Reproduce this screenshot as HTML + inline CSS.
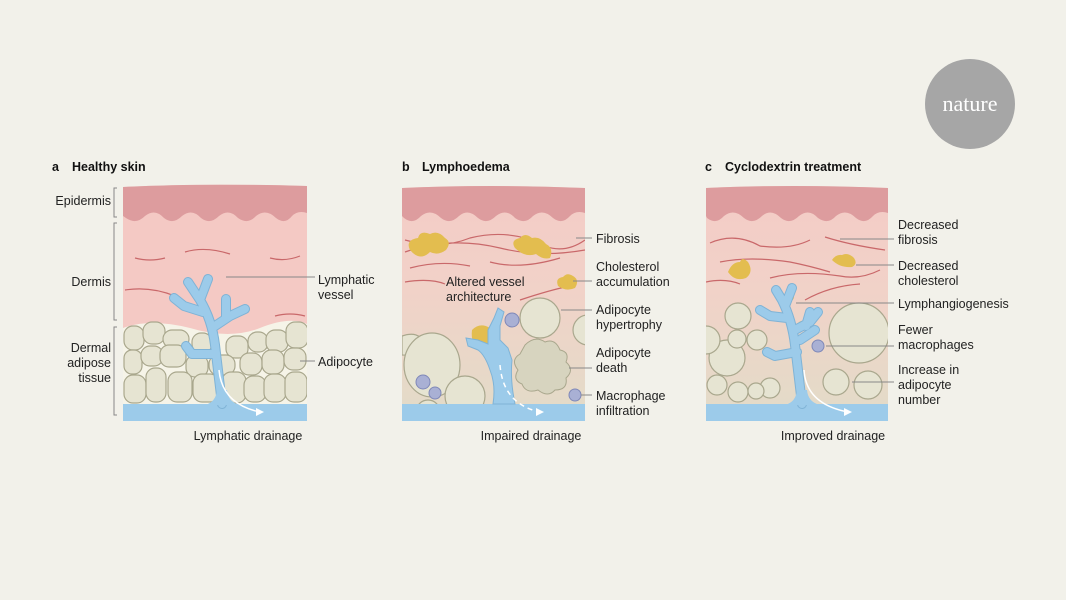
<!DOCTYPE html>
<html><head><meta charset="utf-8"><style>
html,body{margin:0;padding:0;background:#f2f1ea;}
svg{display:block;font-family:"Liberation Sans",Arial,sans-serif;}
.l{font-size:12.5px;fill:#222;}
.t{font-size:12.5px;font-weight:bold;fill:#111;}
.ln{stroke:#888;stroke-width:1;fill:none;}
.cell{fill:#e6e4d2;stroke:#a9a78d;stroke-width:1.2;}
.fib{stroke:#c9686a;stroke-width:1.2;fill:none;}
.v{fill:#9ccbea;stroke:#7fb3d6;stroke-width:1;}
.vo{stroke:#7fb3d6;stroke-width:10;fill:none;stroke-linecap:round;stroke-linejoin:round;}
.vi{stroke:#9ccbea;stroke-width:8;fill:none;stroke-linecap:round;stroke-linejoin:round;}
.ch{fill:#e3bd4f;}
.mac{fill:#a9b0d4;stroke:#7f88b8;stroke-width:1;}
</style></head><body>
<svg width="1066" height="600" viewBox="0 0 1066 600">
<rect width="1066" height="600" fill="#f2f1ea"/>
<defs>
<linearGradient id="gb" x1="0" y1="0" x2="0" y2="1">
<stop offset="0" stop-color="#f4cbc6"/><stop offset="0.45" stop-color="#f1d2c8"/><stop offset="1" stop-color="#e2dcc8"/></linearGradient>
<clipPath id="ca"><rect x="123" y="180" width="184" height="241"/></clipPath>
<clipPath id="cb"><rect x="402" y="180" width="183" height="241"/></clipPath>
<clipPath id="cc"><rect x="706" y="180" width="182" height="241"/></clipPath>
<path id="va" d="M222 404 Q218 370 215 345 Q212 320 200 300 L188 282 M200 300 L208 279 M203 312 L184 306 L174 298 M212 328 L230 316 L245 309 M226 318 L226 299 M215 354 L192 354 L186 346"/>
<path id="vc" d="M802 404 Q798 370 795 345 Q792 320 782 300 L776 290 M785 306 L792 288 M787 318 L770 316 L760 310 M795 330 L810 322 L818 312 M806 326 L810 312 M797 352 L775 356 L767 352 M800 340 L815 330"/>
</defs>
<!-- nature -->
<circle cx="970" cy="104" r="45" fill="#a6a6a6"/>
<text x="970" y="111" text-anchor="middle" font-family="Liberation Serif,serif" font-size="22" fill="#fff">nature</text>

<!-- ===== Panel a ===== -->
<text x="52" y="171" class="t">a</text><text x="72" y="171" class="t">Healthy skin</text>
<g clip-path="url(#ca)">
<path d="M123 187 Q200 183 307 186 L307 421 L123 421Z" fill="#f4c9c4"/>
<path d="M123 187 Q200 183 307 186 L307 213 Q298 210 292 216 Q285 225 276 218 Q266 208 256 216 Q248 225 238 218 Q229 208 219 216 Q210 225 201 218 Q192 208 182 216 Q173 225 164 218 Q155 208 145 216 Q136 225 126 218 L123 216Z" fill="#dd9c9e"/>
<path class="fib" d="M135 258 Q150 262 165 258 M185 252 Q205 246 230 254 M270 258 Q285 262 300 256 M125 290 Q150 286 175 296 M275 316 Q290 312 305 316"/>
<path d="M123 328 Q150 318 190 328 Q230 340 260 328 Q290 316 307 324 L307 404 L123 404Z" fill="#f6f4e8"/>
<g>
<rect class="cell" x="124" y="326" width="20" height="24" rx="9"/><rect class="cell" x="143" y="322" width="22" height="22" rx="9"/><rect class="cell" x="163" y="330" width="26" height="18" rx="9"/><rect class="cell" x="192" y="333" width="20" height="20" rx="9"/><rect class="cell" x="226" y="336" width="22" height="22" rx="9"/><rect class="cell" x="248" y="332" width="20" height="20" rx="9"/><rect class="cell" x="266" y="330" width="22" height="22" rx="9"/><rect class="cell" x="286" y="322" width="22" height="26" rx="9"/>
<rect class="cell" x="124" y="350" width="18" height="24" rx="8"/><rect class="cell" x="141" y="346" width="22" height="20" rx="9"/><rect class="cell" x="160" y="345" width="26" height="22" rx="9"/><rect class="cell" x="186" y="355" width="22" height="22" rx="9"/><rect class="cell" x="209" y="355" width="26" height="20" rx="9"/><rect class="cell" x="240" y="353" width="22" height="22" rx="9"/><rect class="cell" x="262" y="350" width="22" height="24" rx="9"/><rect class="cell" x="284" y="348" width="22" height="22" rx="9"/>
<rect class="cell" x="124" y="375" width="22" height="28" rx="9"/><rect class="cell" x="146" y="368" width="20" height="34" rx="9"/><rect class="cell" x="168" y="372" width="24" height="30" rx="9"/><rect class="cell" x="193" y="374" width="26" height="28" rx="9"/><rect class="cell" x="222" y="372" width="24" height="31" rx="9"/><rect class="cell" x="244" y="376" width="22" height="26" rx="9"/><rect class="cell" x="264" y="374" width="22" height="28" rx="9"/><rect class="cell" x="285" y="372" width="22" height="30" rx="9"/>
</g>
<rect x="123" y="404" width="184" height="17" fill="#9ccbea"/>
<use href="#va" class="vo"/><use href="#va" class="vi"/>
<path d="M217 390 Q216 402 205 405 L240 405 Q228 402 227 390Z" fill="#9ccbea"/>
<path d="M219 370 Q222 404 260 412" stroke="#fff" stroke-width="1.5" fill="none"/><path d="M256 408 L264 412 L256 416Z" fill="#fff"/>
</g>
<g class="ln"><path d="M117 188 L114 188 L114 217 L117 217 M117 223 L114 223 L114 320 L117 320 M117 327 L114 327 L114 415 L117 415"/>
<path d="M226 277 L315 277 M300 361 L315 361"/></g>
<text x="111" y="205" class="l" text-anchor="end">Epidermis</text>
<text x="111" y="286" class="l" text-anchor="end">Dermis</text>
<text x="111" y="352" class="l" text-anchor="end">Dermal</text>
<text x="111" y="367" class="l" text-anchor="end">adipose</text>
<text x="111" y="382" class="l" text-anchor="end">tissue</text>
<text x="318" y="284" class="l">Lymphatic</text><text x="318" y="299" class="l">vessel</text>
<text x="318" y="366" class="l">Adipocyte</text>
<text x="248" y="440" class="l" text-anchor="middle">Lymphatic drainage</text>

<!-- ===== Panel b ===== -->
<text x="402" y="171" class="t">b</text><text x="422" y="171" class="t">Lymphoedema</text>
<g clip-path="url(#cb)">
<path d="M402 188 Q490 184 585 188 L585 421 L402 421Z" fill="url(#gb)"/>
<path d="M402 188 Q490 184 585 188 L585 213 Q576 210 570 216 Q562 225 553 218 Q543 208 533 216 Q525 225 515 218 Q506 208 496 216 Q487 225 478 218 Q468 208 459 216 Q450 225 441 218 Q431 208 421 216 Q413 225 404 218 L402 216Z" fill="#dd9c9e"/>
<path class="fib" d="M405 240 Q440 250 470 238 Q510 228 545 246 Q565 254 585 240 M405 252 Q450 236 500 248 Q540 258 585 250 M410 268 Q440 260 470 266 M490 262 Q520 270 560 258 M405 282 Q430 278 445 284 M520 300 Q550 290 570 286"/>
<path class="ch" d="M410 250 Q405 240 418 238 Q420 230 430 234 Q438 230 445 238 Q452 242 446 250 Q438 256 430 252 Q420 262 410 250Z"/>
<path class="ch" d="M515 248 Q510 240 520 238 Q525 232 532 238 Q540 236 546 244 Q554 248 550 258 Q543 260 536 254 Q525 258 515 248Z"/>
<path class="ch" d="M558 286 Q555 278 563 277 Q567 272 573 276 Q580 280 575 288 Q566 292 558 286Z"/>
<path d="M402 336 Q420 330 425 345 Q422 356 402 355Z" class="cell"/>
<circle class="cell" cx="540" cy="318" r="20"/>
<ellipse class="cell" cx="432" cy="365" rx="28" ry="32"/>
<circle class="cell" cx="465" cy="396" r="20"/>
<circle class="cell" cx="428" cy="412" r="12"/>
<circle class="cell" cx="588" cy="330" r="15"/>
<path fill="#d7d4bf" stroke="#a9a78d" d="M525 345 Q535 335 545 342 Q555 338 560 350 Q570 352 566 362 Q575 370 566 378 Q568 390 555 390 Q548 398 538 390 Q526 394 522 384 Q512 380 518 370 Q510 360 520 354Z"/>
<rect x="402" y="404" width="183" height="17" fill="#9ccbea"/>
<path class="ch" d="M472 330 Q480 322 490 328 Q500 330 500 345 Q505 358 495 362 Q485 360 482 350 Q470 345 472 330Z"/>
<path class="v" d="M493 404 Q496 385 490 370 Q485 355 478 350 L468 346 L466 338 L478 340 L488 344 L488 330 L494 318 L498 308 L504 312 L500 326 L500 340 L508 348 L512 360 Q510 380 515 404Z"/>
<path d="M500 365 Q503 404 540 412" stroke="#fff" stroke-width="1.5" stroke-dasharray="5 4" fill="none"/><path d="M536 408 L544 412 L536 416Z" fill="#fff"/>
<circle class="mac" cx="512" cy="320" r="7"/><circle class="mac" cx="423" cy="382" r="7"/><circle class="mac" cx="435" cy="393" r="6"/><circle class="mac" cx="575" cy="395" r="6"/>
</g>
<g class="ln"><path d="M576 238 L592 238 M573 281 L592 281 M561 310 L592 310 M569 368 L592 368 M581 395 L592 395"/></g>
<text x="596" y="243" class="l">Fibrosis</text>
<text x="596" y="271" class="l">Cholesterol</text><text x="596" y="286" class="l">accumulation</text>
<text x="596" y="314" class="l">Adipocyte</text><text x="596" y="329" class="l">hypertrophy</text>
<text x="596" y="357" class="l">Adipocyte</text><text x="596" y="372" class="l">death</text>
<text x="596" y="400" class="l">Macrophage</text><text x="596" y="415" class="l">infiltration</text>
<text x="446" y="286" class="l">Altered vessel</text><text x="446" y="301" class="l">architecture</text>
<text x="531" y="440" class="l" text-anchor="middle">Impaired drainage</text>

<!-- ===== Panel c ===== -->
<text x="705" y="171" class="t">c</text><text x="725" y="171" class="t">Cyclodextrin treatment</text>
<g clip-path="url(#cc)">
<path d="M706 188 Q790 184 888 188 L888 421 L706 421Z" fill="url(#gb)"/>
<path d="M706 188 Q790 184 888 188 L888 213 Q879 210 873 216 Q865 225 856 218 Q846 208 836 216 Q828 225 818 218 Q809 208 799 216 Q790 225 781 218 Q771 208 762 216 Q753 225 744 218 Q734 208 724 216 Q716 225 707 218 L706 216Z" fill="#dd9c9e"/>
<path class="fib" d="M710 243 Q735 232 760 246 Q790 250 810 240 M825 237 Q850 245 885 250 M720 262 Q750 256 790 262 Q810 266 830 272 M770 278 Q800 270 840 276 Q860 280 880 270 M706 282 Q725 278 740 284 M805 300 Q830 286 860 284"/>
<path class="ch" d="M728 272 Q732 262 740 262 Q742 256 748 262 Q754 272 746 278 Q735 282 728 272Z"/>
<path class="ch" d="M832 260 Q836 254 842 255 Q848 252 854 258 Q858 264 852 267 Q840 268 832 260Z"/>
<circle class="cell" cx="738" cy="316" r="13"/><circle class="cell" cx="859" cy="333" r="30"/><ellipse class="cell" cx="727" cy="358" rx="18" ry="18"/>
<circle class="cell" cx="737" cy="339" r="9"/><circle class="cell" cx="757" cy="340" r="10"/><circle class="cell" cx="717" cy="385" r="10"/><circle class="cell" cx="738" cy="392" r="10"/><circle class="cell" cx="770" cy="388" r="10"/><circle class="cell" cx="756" cy="391" r="8"/>
<circle class="cell" cx="836" cy="382" r="13"/><circle class="cell" cx="868" cy="385" r="14"/><circle class="cell" cx="706" cy="340" r="14"/>
<circle class="ch" cx="790" cy="297" r="4"/><circle class="ch" cx="802" cy="326" r="5"/>
<rect x="706" y="404" width="182" height="17" fill="#9ccbea"/>
<use href="#vc" class="vo"/><use href="#vc" class="vi"/>
<path d="M797 390 Q796 402 785 405 L820 405 Q808 402 807 390Z" fill="#9ccbea"/>
<path d="M804 370 Q806 404 848 412" stroke="#fff" stroke-width="1.5" fill="none"/><path d="M844 408 L852 412 L844 416Z" fill="#fff"/>
<circle class="mac" cx="818" cy="346" r="6"/>
</g>
<g class="ln"><path d="M840 239 L894 239 M856 265 L894 265 M796 303 L894 303 M826 346 L894 346 M852 382 L894 382"/></g>
<text x="898" y="229" class="l">Decreased</text><text x="898" y="244" class="l">fibrosis</text>
<text x="898" y="270" class="l">Decreased</text><text x="898" y="285" class="l">cholesterol</text>
<text x="898" y="308" class="l">Lymphangiogenesis</text>
<text x="898" y="334" class="l">Fewer</text><text x="898" y="349" class="l">macrophages</text>
<text x="898" y="374" class="l">Increase in</text><text x="898" y="389" class="l">adipocyte</text><text x="898" y="404" class="l">number</text>
<text x="833" y="440" class="l" text-anchor="middle">Improved drainage</text>
</svg>
</body></html>
